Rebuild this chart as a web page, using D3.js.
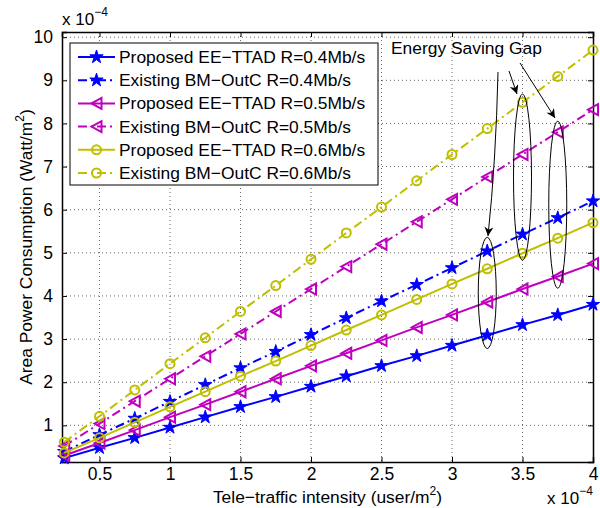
<!DOCTYPE html>
<html lang="en">
<head>
<meta charset="UTF-8">
<title>Area Power Consumption</title>
<script src="https://d3js.org/d3.v7.min.js"></script>
<style>
    body { margin: 0; background: #fff; font-family: "Liberation Sans", Arial, sans-serif; }
    svg text { font-family: "Liberation Sans", Arial, sans-serif; }
</style>
</head>
<body>
<script>
    // data (x in units of 1e-4 user/m^2, y in units of 1e-4 Watt/m^2)
    const traffic = [0.25, 0.5, 0.75, 1, 1.25, 1.5, 1.75, 2, 2.25, 2.5, 2.75, 3, 3.25, 3.5, 3.75, 4];
    const propR04 = [0.24, 0.48, 0.71, 0.95, 1.19, 1.43, 1.66, 1.90, 2.14, 2.38, 2.61, 2.85, 3.09, 3.33, 3.56, 3.80];
    const existR04 = [0.39, 0.78, 1.16, 1.55, 1.94, 2.33, 2.71, 3.10, 3.49, 3.88, 4.26, 4.65, 5.04, 5.43, 5.81, 6.20];
    const propR05 = [0.30, 0.59, 0.89, 1.19, 1.48, 1.78, 2.08, 2.38, 2.67, 2.97, 3.27, 3.56, 3.86, 4.16, 4.45, 4.75];
    const existR05 = [0.52, 1.04, 1.56, 2.08, 2.60, 3.12, 3.64, 4.16, 4.68, 5.20, 5.72, 6.24, 6.76, 7.28, 7.80, 8.32];
    const propR06 = [0.36, 0.71, 1.07, 1.43, 1.78, 2.14, 2.49, 2.85, 3.21, 3.56, 3.92, 4.28, 4.63, 4.99, 5.34, 5.70];
    const existR06 = [0.61, 1.21, 1.82, 2.43, 3.03, 3.64, 4.24, 4.85, 5.46, 6.06, 6.67, 7.28, 7.88, 8.49, 9.09, 9.70];

    const seriesNames = [
        "Proposed EE\u2212TTAD R=0.4Mb/s",
        "Existing BM\u2212OutC R=0.4Mb/s",
        "Proposed EE\u2212TTAD R=0.5Mb/s",
        "Existing BM\u2212OutC R=0.5Mb/s",
        "Proposed EE\u2212TTAD R=0.6Mb/s",
        "Existing BM\u2212OutC R=0.6Mb/s"
    ];
    const seriesValues = [propR04, existR04, propR05, existR05, propR06, existR06];

    const xTicks = [0.5, 1, 1.5, 2, 2.5, 3, 3.5, 4];
    const yTicks = [1, 2, 3, 4, 5, 6, 7, 8, 9, 10];

    // ellipses around gaps (x value, y from, y to)
    const gapEllipses = [
        {x: 3.25, y0: 2.78, y1: 5.36},
        {x: 3.5, y0: 4.83, y1: 8.68},
        {x: 3.75, y0: 4.18, y1: 8.05}
    ];

    const styles = [
        {color: "#0000FF", dash: null, marker: "star"},
        {color: "#0000FF", dash: "9,4,2,4", marker: "star"},
        {color: "#BF00BF", dash: null, marker: "tri"},
        {color: "#BF00BF", dash: "9,4,2,4", marker: "tri"},
        {color: "#BFBF00", dash: null, marker: "circle"},
        {color: "#BFBF00", dash: "9,4,2,4", marker: "circle"}
    ];

    const W = 600, H = 508;
    const margin = {top: 32, right: 7, bottom: 46, left: 62};
    const width = W - margin.left - margin.right;
    const height = H - margin.top - margin.bottom;

    const svg = d3.select("body").append("svg")
        .attr("width", W)
        .attr("height", H);

    const g = svg.append("g")
        .attr("transform", `translate(${margin.left},${margin.top})`);

    const x = d3.scaleLinear().domain([0.234, 4]).range([0, width]);
    const y = d3.scaleLinear().domain([0.15, 10.12]).range([height, 0]);

    // grid
    g.append("g").selectAll("line")
        .data(xTicks.filter(d => d < 4))
        .join("line")
        .attr("x1", d => x(d)).attr("x2", d => x(d))
        .attr("y1", 0).attr("y2", height)
        .attr("stroke", "#666").attr("stroke-width", 1)
        .attr("stroke-dasharray", "1,3");
    g.append("g").selectAll("line")
        .data(yTicks)
        .join("line")
        .attr("x1", 0).attr("x2", width)
        .attr("y1", d => y(d)).attr("y2", d => y(d))
        .attr("stroke", "#666").attr("stroke-width", 1)
        .attr("stroke-dasharray", "1,3");

    // axes with inward ticks
    const axB = g.append("g").attr("transform", `translate(0,${height})`)
        .call(d3.axisBottom(x).tickValues(xTicks).tickSize(-5).tickPadding(6).tickFormat(d3.format("")));
    const axT = g.append("g")
        .call(d3.axisTop(x).tickValues(xTicks).tickSize(-5).tickFormat(""));
    const axL = g.append("g")
        .call(d3.axisLeft(y).tickValues(yTicks).tickSize(-5).tickPadding(9).tickFormat(d3.format("")));
    const axR = g.append("g").attr("transform", `translate(${width},0)`)
        .call(d3.axisRight(y).tickValues(yTicks).tickSize(-5).tickFormat(""));
    [axB, axT, axL, axR].forEach(a => {
        a.select(".domain").attr("stroke", "#000").attr("stroke-width", 1.5);
        a.selectAll(".tick line").attr("stroke", "#000");
        a.selectAll("text").style("font-size", "17.5px").attr("fill", "#000");
    });

    // exponent labels
    const expTop = svg.append("text")
        .attr("x", 62).attr("y", 25)
        .style("font-size", "17px");
    expTop.append("tspan").text("x 10");
    expTop.append("tspan").attr("dy", -9).style("font-size", "12px").text("\u22124");

    const expBot = svg.append("text")
        .attr("x", 547).attr("y", 504)
        .style("font-size", "17px");
    expBot.append("tspan").text("x 10");
    expBot.append("tspan").attr("dy", -9).style("font-size", "12px").text("\u22124");

    // axis titles
    const xl = svg.append("text")
        .attr("x", margin.left + width / 2).attr("y", 503)
        .attr("text-anchor", "middle")
        .style("font-size", "17.4px");
    xl.append("tspan").text("Tele\u2212traffic intensity (user/m");
    xl.append("tspan").attr("dy", -8).style("font-size", "12px").text("2");
    xl.append("tspan").attr("dy", 8).text(")");

    const yl = svg.append("text")
        .attr("transform", `translate(32,${margin.top + height / 2}) rotate(-90)`)
        .attr("text-anchor", "middle")
        .style("font-size", "17.4px");
    yl.append("tspan").text("Area Power Consumption (Watt/m");
    yl.append("tspan").attr("dy", -8).style("font-size", "12px").text("2");
    yl.append("tspan").attr("dy", 8).text(")");

    // markers
    const starPath = d3.symbol().type(d3.symbolStar).size(55)();
    const triPath = "M-5,0L5,-5.5L5,5.5Z";

    function drawMarker(sel, st) {
        if (st.marker === "star") {
            sel.append("path").attr("d", starPath).attr("fill", st.color).attr("stroke", st.color).attr("stroke-width", 1);
        } else if (st.marker === "tri") {
            sel.append("path").attr("d", triPath).attr("fill", "none").attr("stroke", st.color).attr("stroke-width", 2);
        } else {
            sel.append("circle").attr("r", 4.5).attr("fill", "none").attr("stroke", st.color).attr("stroke-width", 2);
        }
    }

    const plot = g.append("g");
    const line = d3.line().x(d => x(d[0])).y(d => y(d[1]));

    seriesValues.forEach((vals, i) => {
        const st = styles[i];
        const pts = traffic.map((t, k) => [t, vals[k]]);
        plot.append("path")
            .datum(pts)
            .attr("d", line)
            .attr("fill", "none")
            .attr("stroke", st.color)
            .attr("stroke-width", 2)
            .attr("stroke-dasharray", st.dash);
        pts.forEach(p => {
            const m = plot.append("g").attr("transform", `translate(${x(p[0])},${y(p[1])})`);
            drawMarker(m, st);
        });
    });

    // ellipses
    g.append("g").selectAll("ellipse")
        .data(gapEllipses)
        .join("ellipse")
        .attr("cx", d => x(d.x))
        .attr("cy", d => (y(d.y0) + y(d.y1)) / 2)
        .attr("rx", 9)
        .attr("ry", d => (y(d.y0) - y(d.y1)) / 2)
        .attr("fill", "none")
        .attr("stroke", "#000")
        .attr("stroke-width", 1);

    // arrows
    svg.append("defs").append("marker")
        .attr("id", "arr")
        .attr("viewBox", "0 0 10 10")
        .attr("refX", 10).attr("refY", 5)
        .attr("markerWidth", 12).attr("markerHeight", 9)
        .attr("markerUnits", "userSpaceOnUse")
        .attr("orient", "auto")
        .append("path")
        .attr("d", "M0,0L10,5L0,10L3,5Z")
        .attr("fill", "#000");

    const arrows = [
        "M498,72 Q496,160 488,236",
        "M509,71 L517,94",
        "M520,63 L555,118"
    ];
    svg.append("g").selectAll("path")
        .data(arrows)
        .join("path")
        .attr("d", d => d)
        .attr("fill", "none")
        .attr("stroke", "#000")
        .attr("stroke-width", 1)
        .attr("marker-end", "url(#arr)");

    svg.append("text")
        .attr("x", 391).attr("y", 54)
        .style("font-size", "17.4px")
        .text("Energy Saving Gap");

    // legend
    const legend = svg.append("g").attr("transform", "translate(70,43)");
    legend.append("rect")
        .attr("width", 308).attr("height", 142)
        .attr("fill", "#fff").attr("stroke", "#000").attr("stroke-width", 1);
    seriesNames.forEach((name, i) => {
        const st = styles[i];
        const ly = 14 + i * 23.2;
        legend.append("line")
            .attr("x1", 8).attr("x2", 45)
            .attr("y1", ly).attr("y2", ly)
            .attr("stroke", st.color).attr("stroke-width", 2)
            .attr("stroke-dasharray", st.dash);
        drawMarker(legend.append("g").attr("transform", `translate(26.5,${ly})`), st);
        legend.append("text")
            .attr("x", 49).attr("y", ly + 6)
            .style("font-size", "17.4px")
            .text(name);
    });
</script>
</body>
</html>
